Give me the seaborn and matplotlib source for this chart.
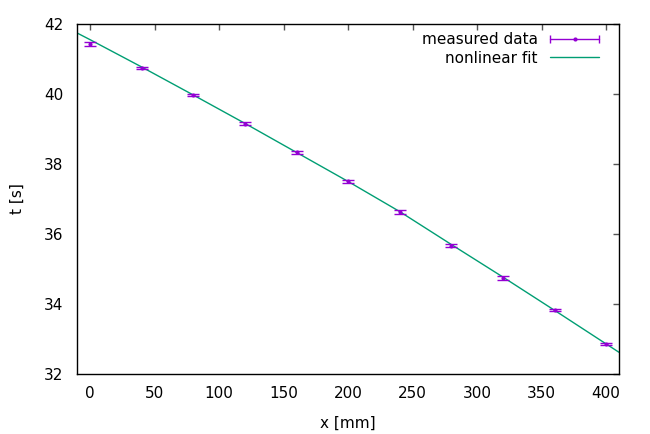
import numpy as np
import pandas as pd
import matplotlib
matplotlib.use("Agg")
import matplotlib.pyplot as plt
import seaborn as sns
from matplotlib.lines import Line2D
from matplotlib.legend_handler import HandlerBase

# ---- data ----
x_mm = [0, 40, 80, 120, 160, 200, 240, 280, 320, 360, 400]
t_s = [41.43, 40.75, 39.97, 39.15, 38.33, 37.51, 36.63, 35.67, 34.74, 33.84, 32.86]
t_err = [0.07, 0.03, 0.03, 0.04, 0.04, 0.04, 0.045, 0.04, 0.06, 0.03, 0.03]

fit_x = [-10, 0, 40, 80, 120, 160, 200, 240, 280, 320, 360, 400, 410]
fit_t = [41.74, 41.55, 40.77, 39.97, 39.16, 38.33, 37.50, 36.64, 35.70, 34.77, 33.82, 32.86, 32.62]

x_ticks = [0, 50, 100, 150, 200, 250, 300, 350, 400]
y_ticks = [32, 34, 36, 38, 40, 42]

DATA_COLOR = "#9400d3"
FIT_COLOR = "#009e73"

sns.set_theme(style="white")
plt.rcParams["font.family"] = ["DejaVu Sans"]
plt.rcParams["font.size"] = 11
plt.rcParams["text.color"] = "black"
plt.rcParams["axes.labelcolor"] = "black"
plt.rcParams["xtick.labelcolor"] = "black"
plt.rcParams["ytick.labelcolor"] = "black"

fig = plt.figure(figsize=(6.5, 4.34), dpi=100)
ax = fig.add_axes([77.3 / 650, 1 - 374 / 434, (619 - 77.3) / 650, (374 - 24) / 434])

fit_df = pd.DataFrame({"x": fit_x, "t": fit_t})
sns.lineplot(data=fit_df, x="x", y="t", ax=ax, color=FIT_COLOR, linewidth=1.0,
             sort=False, estimator=None)

ax.errorbar(x_mm, t_s, yerr=t_err, fmt="none", ecolor=DATA_COLOR,
            elinewidth=1.0, capsize=4.0, capthick=1.0, zorder=3)
data_df = pd.DataFrame({"x": x_mm, "t": t_s})
sns.scatterplot(data=data_df, x="x", y="t", ax=ax, color=DATA_COLOR, s=9,
                marker="o", linewidth=0, zorder=4)

ax.set_xlim(-10, 410)
ax.set_ylim(32, 42)
ax.set_xticks(x_ticks)
ax.set_yticks(y_ticks)
ax.set_xlabel("x [mm]", fontsize=11, labelpad=10.5, color="black")
ax.set_ylabel("t [s]", fontsize=11, labelpad=13.5, color="black")
ax.tick_params(direction="in", length=4, width=1, color="#555555",
               labelcolor="black", top=True, right=True, labelsize=11)
ax.tick_params(axis="x", pad=9)
ax.tick_params(axis="y", pad=10)
for s in ax.spines.values():
    s.set_visible(True)
    s.set_color("black")
    s.set_linewidth(1.0)
ax.grid(False)


class HandlerGnuErr(HandlerBase):
    def create_artists(self, legend, orig_handle, xdescent, ydescent,
                       width, height, fontsize, trans):
        y = height / 2 - ydescent
        x0, x1 = -xdescent, -xdescent + width
        line = Line2D([x0, x1], [y, y], color=DATA_COLOR, lw=1.0)
        caps = Line2D([x0, x1], [y, y], color=DATA_COLOR, lw=0,
                      marker="|", markersize=6, markeredgewidth=1.0)
        dot = Line2D([(x0 + x1) / 2], [y], color=DATA_COLOR, lw=0,
                     marker="o", markersize=3, markeredgewidth=0)
        for a in (line, caps, dot):
            a.set_transform(trans)
        return [line, caps, dot]


data_handle = Line2D([], [], color=DATA_COLOR)
fit_handle = Line2D([], [], color=FIT_COLOR, lw=1.0)
leg = ax.legend([data_handle, fit_handle], ["measured data", "nonlinear fit"],
                handler_map={data_handle: HandlerGnuErr()},
                loc="upper right", bbox_to_anchor=(1 - 20 / 542, 1 - 8 / 350),
                frameon=False, markerfirst=False, borderpad=0, borderaxespad=0,
                handlelength=3.2, handletextpad=0.8, labelspacing=0.25, fontsize=11)
for txt in leg.get_texts():
    txt.set_color("black")

fig.savefig("out.png", dpi=100)
